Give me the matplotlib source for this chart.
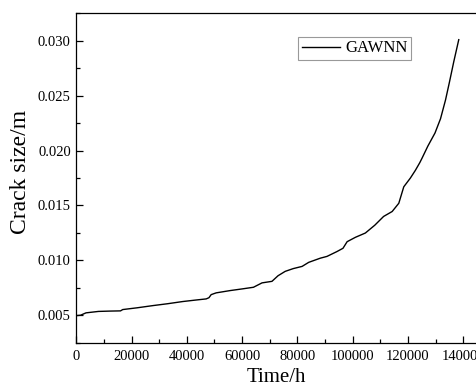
import matplotlib
matplotlib.use("Agg")
import matplotlib.pyplot as plt
from matplotlib.ticker import MultipleLocator

# Predicted crack growth (time in hours, crack size in metres)
time_h = [0, 1500, 3500, 8000, 12000, 16000, 16800, 22000, 27700, 33000,
          38500, 43000, 47000, 48000, 48800, 50600, 55700, 60000, 64100,
          67200, 70800, 73000, 75600, 78500, 81700, 84100, 88300, 90700,
          94300, 96500, 98000, 101000, 104600, 108000, 111200, 114300,
          116700, 118500, 120900, 122700, 124300, 125100, 127200, 129800,
          131800, 133600, 135000, 136600, 138400]
crack_m = [0.00497, 0.0050, 0.00522, 0.00535, 0.00538, 0.0054, 0.00552,
           0.00568, 0.00588, 0.00605, 0.00625, 0.00638, 0.00649, 0.0066,
           0.00688, 0.00704, 0.00725, 0.0074, 0.00755, 0.00795, 0.00809,
           0.0086, 0.0090, 0.00925, 0.00945, 0.00982, 0.0102, 0.01036,
           0.0108, 0.0111, 0.0117, 0.0121, 0.01249, 0.0132, 0.0140,
           0.01445, 0.0152, 0.0167, 0.0175, 0.0182, 0.0189, 0.0193,
           0.0204, 0.0216, 0.0229, 0.0246, 0.0262, 0.0281, 0.0301]

series_label = "GAWNN"
x_label = "Time/h"
y_label = "Crack size/m"

plt.rcParams["font.family"] = ["Liberation Serif", "DejaVu Serif"]

fig = plt.figure(figsize=(4.77, 3.88), dpi=100)
ax = fig.add_axes([0.16, 0.1167, 0.84, 0.849])

ax.plot(time_h, crack_m, color="black", lw=1.0, label=series_label)

ax.set_xlim(0, 145000)
ax.set_ylim(0.0025, 0.0325)
ax.xaxis.set_minor_locator(MultipleLocator(10000))
ax.yaxis.set_minor_locator(MultipleLocator(0.0025))
ax.set_xticks(range(0, 140001, 20000))
ax.set_xticklabels([str(v) for v in range(0, 140001, 20000)])
ax.set_yticks([0.005, 0.010, 0.015, 0.020, 0.025, 0.030])
ax.set_yticklabels(["0.005", "0.010", "0.015", "0.020", "0.025", "0.030"])

ax.tick_params(which="major", direction="in", length=5, width=0.9,
               labelsize=10.5, colors="black")
ax.tick_params(which="minor", direction="in", length=3, width=0.9)
ax.tick_params(axis="x", pad=5)
ax.tick_params(axis="y", pad=4)

ax.spines["right"].set_visible(False)
for s in ("left", "bottom", "top"):
    ax.spines[s].set_linewidth(0.9)

ax.set_xlabel(x_label, fontsize=15, labelpad=4)
ax.set_ylabel(y_label, fontsize=17)
ax.yaxis.set_label_coords(-0.113, 0.517)

leg = ax.legend(loc="upper left", bbox_to_anchor=(0.553, 0.929),
                borderaxespad=0, fontsize=12, handlelength=2.3,
                handletextpad=0.3, borderpad=0.22, fancybox=False,
                framealpha=1)
leg.get_frame().set_edgecolor("#999999")
leg.get_frame().set_linewidth(0.8)

fig.savefig("out.png", dpi=100)
